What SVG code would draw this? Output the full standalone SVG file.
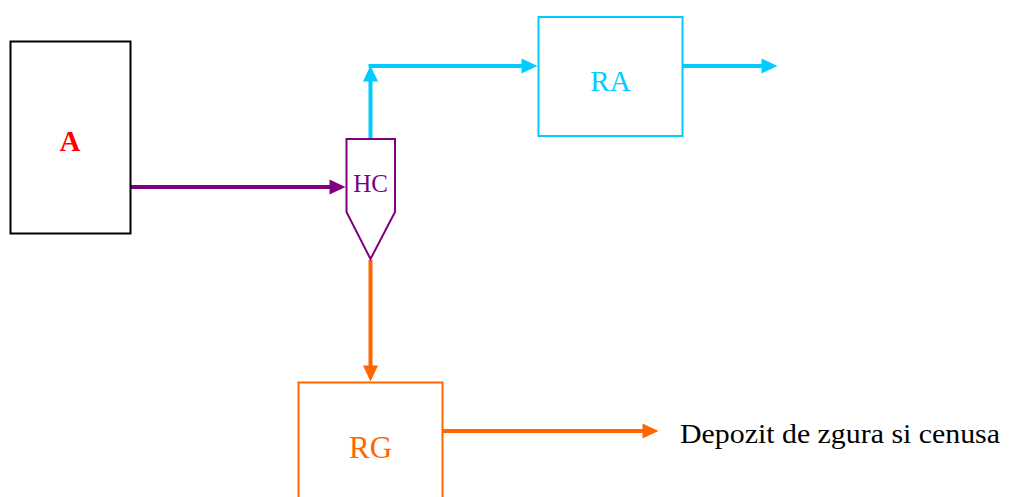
<svg xmlns="http://www.w3.org/2000/svg" width="1013" height="497" viewBox="0 0 1013 497">
<defs>
<style>
.box{fill:#fff;stroke-width:2}
.t{font-family:"Liberation Serif","DejaVu Serif","Times New Roman",serif;text-anchor:middle}
.c{fill:none;stroke-width:4}
</style>
<marker id="mp" markerUnits="userSpaceOnUse" markerWidth="18" markerHeight="16" refX="0.5" refY="8" orient="auto" overflow="visible"><path d="M0,0.5 L16,8 L0,15.5 Z" fill="#800080"/></marker>
<marker id="mc" markerUnits="userSpaceOnUse" markerWidth="18" markerHeight="16" refX="0.5" refY="8" orient="auto" overflow="visible"><path d="M0,0.5 L16,8 L0,15.5 Z" fill="#00CCFF"/></marker>
<marker id="mo" markerUnits="userSpaceOnUse" markerWidth="18" markerHeight="16" refX="0.5" refY="8" orient="auto" overflow="visible"><path d="M0,0.5 L16,8 L0,15.5 Z" fill="#FF6600"/></marker>
</defs>
<rect width="1013" height="497" fill="#fff"/>
<g id="connectors">
<path class="c" d="M131,187 L330,187" stroke="#800080" marker-end="url(#mp)"/>
<path class="c" d="M370.5,139 L370.5,81" stroke="#00CCFF" marker-end="url(#mc)"/>
<path class="c" d="M368.5,66 L522,66" stroke="#00CCFF" marker-end="url(#mc)"/>
<path class="c" d="M683,66 L762,66" stroke="#00CCFF" marker-end="url(#mc)"/>
<path class="c" d="M370.5,260 L370.5,366" stroke="#FF6600" marker-end="url(#mo)"/>
<path class="c" d="M443,431 L643,431" stroke="#FF6600" marker-end="url(#mo)"/>
</g>
<g id="A">
<rect class="box" x="10.5" y="41.5" width="120" height="192" stroke="#000"/>
<text class="t" x="70" y="151" font-size="29" font-weight="bold" fill="#FF0000">A</text>
</g>
<g id="HC">
<path d="M346.5,139 L395,139 L395,212 L370.5,259 L346.5,212 Z" fill="#fff" stroke="#800080" stroke-width="2"/>
<text class="t" x="370.5" y="192" font-size="25" fill="#800080">HC</text>
</g>
<g id="RA">
<rect class="box" x="538.5" y="17" width="144" height="119" stroke="#00CCFF"/>
<text class="t" x="610.5" y="91" font-size="29" fill="#00CCFF">RA</text>
</g>
<g id="RG">
<rect class="box" x="298.5" y="382.5" width="144" height="130" stroke="#FF6600"/>
<text class="t" x="370.5" y="458" font-size="31" fill="#FF6600">RG</text>
</g>
<g id="label">
<text x="680" y="443" font-family="'Liberation Serif','DejaVu Serif',serif" font-size="28" textLength="320" lengthAdjust="spacingAndGlyphs" fill="#000">Depozit de zgura si cenusa</text>
</g>
</svg>
